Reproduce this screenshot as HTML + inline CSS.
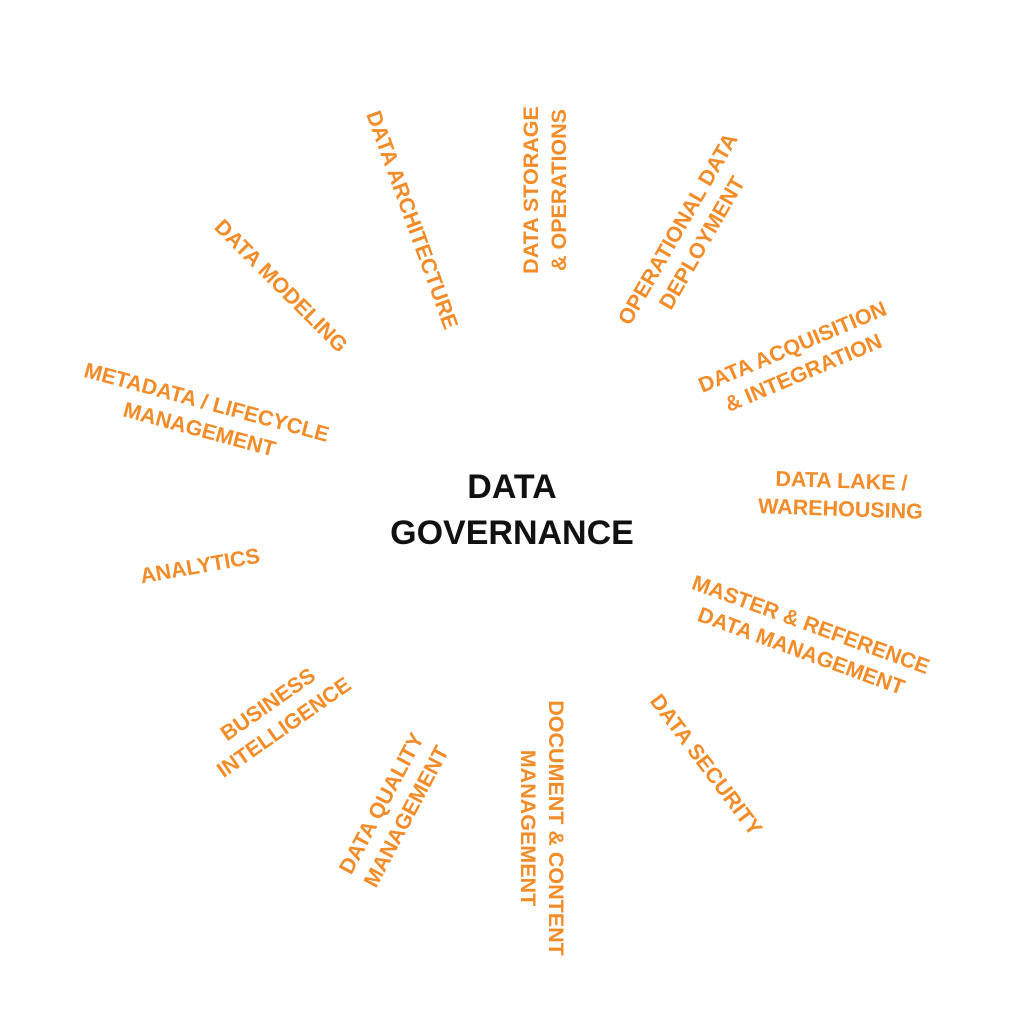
<!DOCTYPE html>
<html><head><meta charset="utf-8"><style>
html,body{margin:0;padding:0;background:#fff;}
body{width:1024px;height:1024px;position:relative;overflow:hidden;font-family:"Liberation Sans",sans-serif;}
.l{position:absolute;color:#F28C28;font-weight:bold;font-size:21.5px;line-height:28px;text-align:center;white-space:nowrap;transform:translate(-50%,-50%) rotate(var(--r));}
.c{position:absolute;left:512px;top:510px;transform:translate(-50%,-50%);font-weight:bold;font-size:34px;line-height:46px;text-align:center;color:#111;white-space:nowrap;}
</style></head><body>
<div class="c">DATA<br>GOVERNANCE</div>
<div class="l" style="left:545px;top:190px;--r:-90deg">DATA STORAGE<br>&amp; OPERATIONS</div>
<div class="l" style="left:690px;top:236px;--r:-60deg">OPERATIONAL DATA<br>DEPLOYMENT</div>
<div class="l" style="left:798px;top:360px;--r:-23deg">DATA ACQUISITION<br>&amp; INTEGRATION</div>
<div class="l" style="left:841px;top:495px;--r:2deg">DATA LAKE /<br>WAREHOUSING</div>
<div class="l" style="left:806px;top:638px;--r:20deg">MASTER &amp; REFERENCE<br>DATA MANAGEMENT</div>
<div class="l" style="left:706px;top:765px;--r:53deg">DATA SECURITY</div>
<div class="l" style="left:542px;top:828px;--r:90deg">DOCUMENT &amp; CONTENT<br>MANAGEMENT</div>
<div class="l" style="left:394px;top:810px;--r:-62deg">DATA QUALITY<br>MANAGEMENT</div>
<div class="l" style="left:276px;top:716px;--r:-35deg">BUSINESS<br>INTELLIGENCE</div>
<div class="l" style="left:200px;top:566px;--r:-10deg">ANALYTICS</div>
<div class="l" style="left:203px;top:416px;--r:15deg">METADATA / LIFECYCLE<br>MANAGEMENT</div>
<div class="l" style="left:281px;top:286px;--r:45deg">DATA MODELING</div>
<div class="l" style="left:412px;top:220px;--r:70deg">DATA ARCHITECTURE</div>
</body></html>
